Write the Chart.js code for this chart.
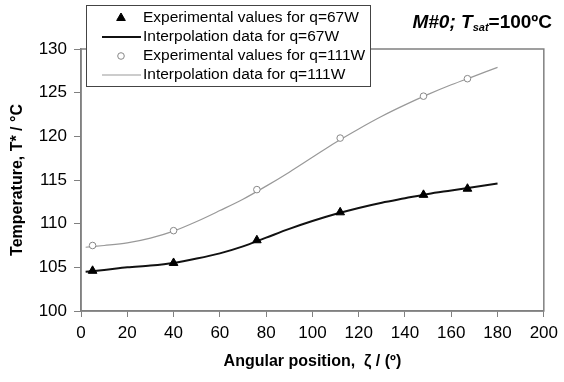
<!DOCTYPE html>
<html>
<head>
<meta charset="utf-8">
<script src="https://cdn.jsdelivr.net/npm/chart.js@4.4.0/dist/chart.umd.min.js"></script>
<style>
    html, body { margin: 0; padding: 0; background: #fff; }
    #wrap { width: 564px; height: 382px; position: relative; }
</style>
</head>
<body>
<div id="wrap"><canvas id="temp-chart" width="564" height="382"></canvas></div>
<script>
// Measured points (angle in degrees, temperature in ºC)
const expAngle = [5, 40, 76, 112, 148, 167];
const exp67 = [104.6, 105.5, 108.1, 111.3, 113.3, 114.0];
const exp111 = [107.5, 109.2, 113.9, 119.8, 124.6, 126.6];

// Interpolation curves
const fitAngle = [2, 10, 20, 30, 40, 50, 60, 70, 80, 90, 100, 110, 120, 130, 140, 150, 160, 170, 180];
const fit67 = [104.5, 104.7, 105.0, 105.2, 105.5, 106.0, 106.6, 107.4, 108.4, 109.4, 110.3, 111.1, 111.8, 112.4, 112.9, 113.4, 113.8, 114.2, 114.6];
const fit111 = [107.3, 107.5, 107.8, 108.35, 109.15, 110.25, 111.5, 112.8, 114.3, 115.9, 117.6, 119.3, 120.85, 122.3, 123.6, 124.8, 125.9, 126.9, 127.9];

const seriesLabels = [
    'Experimental values for q=67W',
    'Interpolation data for q=67W',
    'Experimental values for q=111W',
    'Interpolation data for q=111W'
];

const FONT = "'Liberation Sans', Arial, sans-serif";
const AXIS_GREY = '#808080';

function toPoints(xs, ys) {
    return xs.map((x, i) => ({ x: x, y: ys[i] }));
}

// Grey frame around the plot area (top and right sides included)
const framePlugin = {
    id: 'frame',
    beforeDatasetsDraw(chart) {
        const { ctx, chartArea } = chart;
        ctx.save();
        ctx.strokeStyle = AXIS_GREY;
        ctx.lineWidth = 1.5;
        ctx.strokeRect(chartArea.left, chartArea.top, chartArea.right - chartArea.left, chartArea.bottom - chartArea.top);
        ctx.restore();
    }
};

// Boxed legend in the upper left, overlapping the plot
const boxLegendPlugin = {
    id: 'boxLegend',
    afterDraw(chart) {
        const { ctx } = chart;
        const box = { x: 86, y: 5, w: 284, h: 81 };
        ctx.save();
        ctx.fillStyle = '#fff';
        ctx.fillRect(box.x, box.y, box.w, box.h);
        ctx.strokeStyle = '#444';
        ctx.lineWidth = 1;
        ctx.strokeRect(box.x + 0.5, box.y + 0.5, box.w, box.h);

        chart.data.datasets.forEach((ds, i) => {
            const cy = box.y + 13 + i * 19;
            const cx = 121;
            if (ds.showLine) {
                ctx.strokeStyle = ds.borderColor;
                ctx.lineWidth = ds.borderWidth;
                ctx.beginPath();
                ctx.moveTo(102, cy);
                ctx.lineTo(141, cy);
                ctx.stroke();
            } else {
                ctx.fillStyle = ds.backgroundColor;
                ctx.strokeStyle = ds.borderColor;
                ctx.lineWidth = ds.borderWidth;
                ctx.beginPath();
                if (ds.pointStyle === 'triangle') {
                    const r = ds.pointRadius;
                    ctx.moveTo(cx, cy - r);
                    ctx.lineTo(cx + r * 0.866, cy + r * 0.5);
                    ctx.lineTo(cx - r * 0.866, cy + r * 0.5);
                    ctx.closePath();
                } else {
                    ctx.arc(cx, cy, ds.pointRadius, 0, Math.PI * 2);
                }
                ctx.fill();
                ctx.stroke();
            }
            ctx.fillStyle = '#000';
            ctx.font = '15.5px ' + FONT;
            ctx.textBaseline = 'middle';
            ctx.textAlign = 'left';
            ctx.fillText(ds.label, 143, cy);
        });
        ctx.restore();
    }
};

// "M#0; Tsat=100ºC" with italic parts and subscript
const cornerTitlePlugin = {
    id: 'cornerTitle',
    afterDraw(chart) {
        const { ctx } = chart;
        const parts = [
            { text: 'M#0; ', font: 'italic bold 19px ' + FONT, dy: 0 },
            { text: 'T', font: 'italic bold 19px ' + FONT, dy: 0 },
            { text: 'sat', font: 'italic bold 11px ' + FONT, dy: 3 },
            { text: '=100ºC', font: 'bold 19px ' + FONT, dy: 0 }
        ];
        ctx.save();
        ctx.fillStyle = '#000';
        ctx.textBaseline = 'alphabetic';
        ctx.textAlign = 'left';
        let total = 0;
        parts.forEach(p => { ctx.font = p.font; total += ctx.measureText(p.text).width; });
        let x = 552 - total;
        const baseY = 28;
        parts.forEach(p => {
            ctx.font = p.font;
            ctx.fillText(p.text, x, baseY + p.dy);
            x += ctx.measureText(p.text).width;
        });
        ctx.restore();
    }
};

const ctx = document.getElementById('temp-chart');

new Chart(ctx, {
    type: 'scatter',
    data: {
        datasets: [{
            label: seriesLabels[0],
            data: toPoints(expAngle, exp67),
            pointStyle: 'triangle',
            pointRadius: 5,
            backgroundColor: '#000',
            borderColor: '#000',
            borderWidth: 1,
            showLine: false,
            order: 0
        }, {
            label: seriesLabels[1],
            data: toPoints(fitAngle, fit67),
            showLine: true,
            pointRadius: 0,
            borderColor: '#111',
            borderWidth: 2,
            cubicInterpolationMode: 'monotone',
            order: 1
        }, {
            label: seriesLabels[2],
            data: toPoints(expAngle, exp111),
            pointStyle: 'circle',
            pointRadius: 3.3,
            backgroundColor: '#fff',
            borderColor: '#888',
            borderWidth: 1,
            showLine: false,
            order: 0
        }, {
            label: seriesLabels[3],
            data: toPoints(fitAngle, fit111),
            showLine: true,
            pointRadius: 0,
            borderColor: '#999',
            borderWidth: 1.2,
            cubicInterpolationMode: 'monotone',
            order: 1
        }]
    },
    options: {
        responsive: false,
        animation: false,
        layout: {
            padding: { left: 0, top: 49, right: 16, bottom: 0 }
        },
        plugins: {
            legend: { display: false },
            tooltip: { enabled: false }
        },
        scales: {
            x: {
                type: 'linear',
                min: 0,
                max: 200,
                afterFit(scale) { scale.height = 71; },
                ticks: {
                    stepSize: 20,
                    color: '#000',
                    padding: 6,
                    font: { family: FONT, size: 17 }
                },
                grid: {
                    drawOnChartArea: false,
                    tickLength: 6,
                    color: AXIS_GREY
                },
                border: { color: AXIS_GREY, width: 1.5 },
                title: {
                    display: true,
                    text: 'Angular position,  ζ / (º)',
                    color: '#000',
                    font: { family: FONT, size: 16, weight: 'bold' },
                    padding: { top: 0, bottom: 11 }
                }
            },
            y: {
                min: 100,
                max: 130,
                afterFit(scale) { scale.width = 81; },
                ticks: {
                    stepSize: 5,
                    color: '#000',
                    padding: 7,
                    font: { family: FONT, size: 17 }
                },
                grid: {
                    drawOnChartArea: false,
                    tickLength: 7,
                    color: AXIS_GREY
                },
                border: { color: AXIS_GREY, width: 1.5 },
                title: {
                    display: true,
                    text: 'Temperature, T* / °C',
                    color: '#000',
                    font: { family: FONT, size: 16, weight: 'bold' },
                    padding: { top: 8, bottom: 0 }
                }
            }
        }
    },
    plugins: [framePlugin, boxLegendPlugin, cornerTitlePlugin]
});
</script>
</body>
</html>
